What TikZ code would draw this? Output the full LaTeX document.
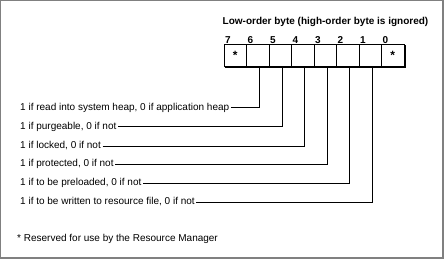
\documentclass[tikz,border=0pt]{standalone}
\usepackage{fontspec}
\setmainfont{Liberation Sans}
\usetikzlibrary{positioning}

\begin{document}
\begin{tikzpicture}[x=1pt, y=-1pt,
  cell/.style={draw=black, line width=1pt, minimum width=22.5pt, minimum height=22pt, inner sep=0pt, outer sep=0pt, font=\bfseries\fontsize{12}{12}\selectfont},
  bitno/.style={anchor=south west, inner sep=1pt, font=\bfseries\fontsize{10}{12}\selectfont},
  ttl/.style={inner sep=1pt, font=\bfseries\fontsize{10}{12}\selectfont},
  lbl/.style={anchor=west, inner sep=1.5pt, font=\fontsize{10}{12}\selectfont},
  lead/.style={draw=black, line width=1pt},
  node distance=0pt
]
\useasboundingbox (0,0) rectangle (444,259);
% frame
\fill[black!50] (0,0) rectangle (444,259);
\fill[white] (1,1) rectangle (442,257);

\node[ttl] (title) at (325.5,22) {Low-order byte (high-order byte is ignored)};

% the byte
\node[cell] (c7) at (235.25,55.5) {\raisebox{-3pt}{*}};
\node[cell, right=of c7] (c6) {};
\node[cell, right=of c6] (c5) {};
\node[cell, right=of c5] (c4) {};
\node[cell, right=of c4] (c3) {};
\node[cell, right=of c3] (c2) {};
\node[cell, right=of c2] (c1) {};
\node[cell, right=of c1] (c0) {\raisebox{-3pt}{*}};
\draw[lead] ([shift={(0.5pt,-1pt)}]c7.south west) -- ([shift={(1pt,-1pt)}]c0.south east) -- ([shift={(1pt,-1pt)}]c0.north east);

\node[bitno] (b7) at (c7.north west) {7};
\node[bitno] (b6) at (c6.north west) {6};
\node[bitno] (b5) at (c5.north west) {5};
\node[bitno] (b4) at (c4.north west) {4};
\node[bitno] (b3) at (c3.north west) {3};
\node[bitno] (b2) at (c2.north west) {2};
\node[bitno] (b1) at (c1.north west) {1};
\node[bitno] (b0) at (c0.north west) {0};

% meanings
\node[lbl] (t6) at (18.5,108) {1 if read into system heap, 0 if application heap};
\node[lbl] (t5) at (18.5,127) {1 if purgeable, 0 if not};
\node[lbl] (t4) at (18.5,146) {1 if locked, 0 if not};
\node[lbl] (t3) at (18.5,164) {1 if protected, 0 if not};
\node[lbl] (t2) at (18.5,183) {1 if to be preloaded, 0 if not};
\node[lbl] (t1) at (18.5,202) {1 if to be written to resource file, 0 if not};
\draw[lead] (t6.east) -| ([xshift=2pt]c6.south);
\draw[lead] (t5.east) -| ([xshift=2pt]c5.south);
\draw[lead] (t4.east) -| ([xshift=2pt]c4.south);
\draw[lead] (t3.east) -| ([xshift=2pt]c3.south);
\draw[lead] (t2.east) -| ([xshift=2pt]c2.south);
\draw[lead] (t1.east) -| ([xshift=2pt]c1.south);

\node[lbl] (note) at (15.5,239) {* Reserved for use by the Resource Manager};
\end{tikzpicture}
\end{document}
